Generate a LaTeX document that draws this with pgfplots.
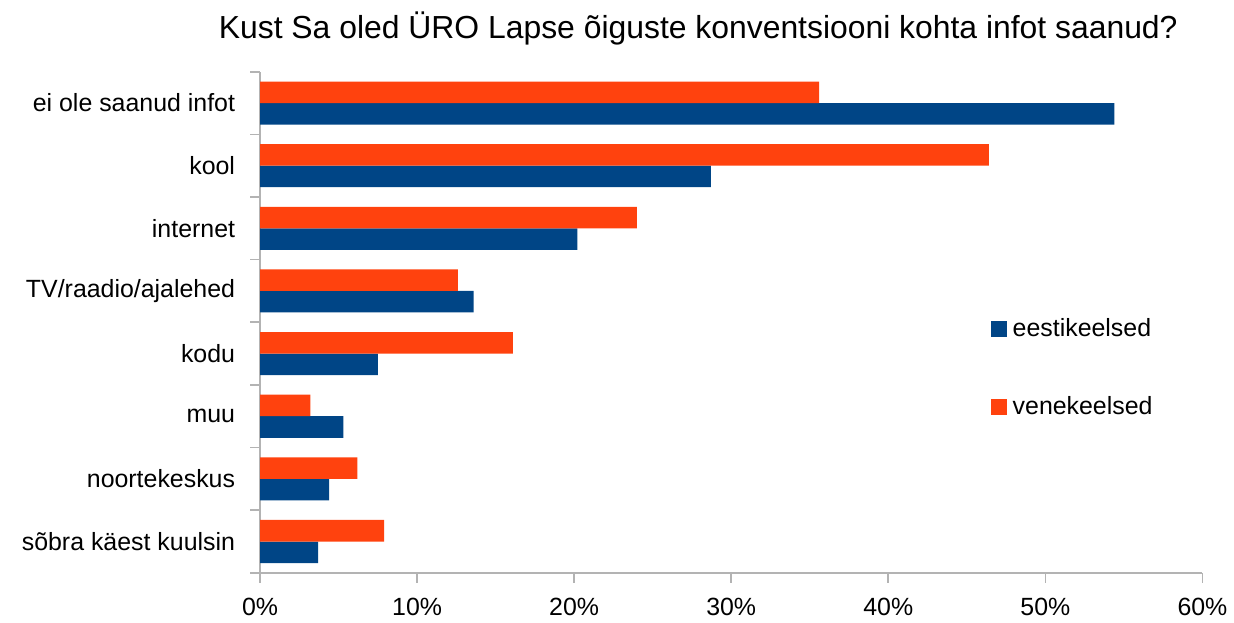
\documentclass[border=0pt]{standalone}
\usepackage{fontspec}
\setmainfont{Liberation Sans}
\usepackage{pgfplots}
\pgfplotsset{compat=1.18}
\definecolor{ooblue}{HTML}{004586}
\definecolor{oored}{HTML}{FF420E}
\definecolor{axgray}{HTML}{B3B3B3}

\begin{document}
\begin{tikzpicture}
\begin{axis}[
  scale only axis, width=473pt, height=251.5pt,
  xbar, bar width=10.8pt,
  xmin=0, xmax=60, ymin=-0.5, ymax=7.5,
  axis lines*=left,
  axis line style={axgray, line width=0.8pt},
  tick align=outside,
  major tick length=5pt, minor tick length=5pt,
  xtick={0,10,...,60},
  xticklabel={\pgfmathprintnumber{\tick}\%},
  /pgf/number format/assume math mode=true,
  x tick style={axgray, line width=0.8pt},
  ytick={0,...,7},
  yticklabels={sõbra käest kuulsin, noortekeskus, muu, kodu, TV/raadio/ajalehed, internet, kool, ei ole saanud infot},
  major y tick style={draw=none},
  minor ytick={-0.5,0.5,...,7.5},
  minor y tick style={axgray, line width=0.8pt},
  tick label style={font=\fontsize{12.5}{15}\selectfont},
  yticklabel style={xshift=-4pt},
  xticklabel style={yshift=-4pt},
  title={Kust Sa oled ÜRO Lapse õiguste konventsiooni kohta infot saanud?},
  title style={font=\fontsize{16}{19}\selectfont, at={(0.465,1)}, anchor=base, yshift=10.5pt},
  legend style={at={(0.775,0.516)}, anchor=north west, draw=none, fill=none,
    inner sep=0pt, row sep=24.5pt, font=\fontsize{12.5}{15}\selectfont},
  legend cell align=left,
  legend image code/.code={\fill[#1] (0pt,-4pt) rectangle (8pt,4pt); \path (9pt,0pt);},
]
\coordinate (bl) at (rel axis cs:0,0);
\addplot[fill=ooblue, draw=none, bar shift=-5.4pt] coordinates {
  (3.7,0) (4.4,1) (5.3,2) (7.5,3) (13.6,4) (20.2,5) (28.7,6) (54.4,7)};
\addplot[fill=oored, draw=none, bar shift=5.4pt] coordinates {
  (7.9,0) (6.2,1) (3.2,2) (16.1,3) (12.6,4) (24.0,5) (46.4,6) (35.6,7)};
\legend{eestikeelsed, venekeelsed}
\end{axis}
\path ([shift={(-130.5pt,-23.5pt)}]bl) rectangle ([shift={(486.5pt,287.5pt)}]bl);
\end{tikzpicture}
\end{document}
